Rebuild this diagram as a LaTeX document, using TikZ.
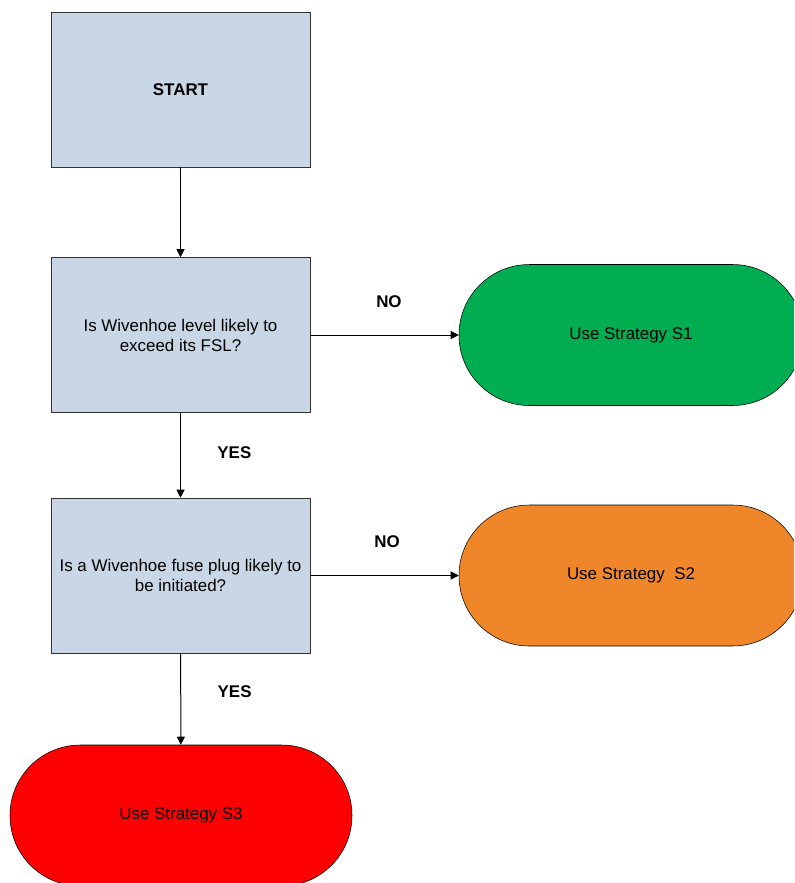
\documentclass[tikz,border=0pt]{standalone}
\usepackage{fontspec}
\setmainfont{Liberation Sans}
\usetikzlibrary{arrows.meta,positioning}
\definecolor{qBox}{HTML}{C9D6E5}
\definecolor{qGreen}{HTML}{00AD50}
\definecolor{qOrange}{HTML}{F0862A}
\definecolor{qRed}{HTML}{FF0000}
\tikzset{
  >={Triangle[length=6pt,width=6pt]},
  qbox/.style ={rectangle,draw=black!80,fill=qBox,align=center,inner sep=2pt,minimum width=194.25pt,minimum height=116.25pt},
  strat/.style={rectangle,rounded corners=52.8pt,draw=black,align=center,minimum width=258pt,minimum height=105.75pt},
  lbl/.style  ={font=\fontsize{12.7}{15}\selectfont\bfseries},
  flow/.style ={->,line width=0.75pt},
}

\begin{document}
\begin{tikzpicture}[x=0.75pt,y=-0.75pt,font=\fontsize{12.7}{15}\selectfont]
  \useasboundingbox (0,0) rectangle (794,883);
  \clip (0,0) rectangle (794,883);
  % questions
  \node[qbox] (start) at (180.5,89.5)  {\bfseries START};
  \node[qbox] (q1)    at (180.5,335)   {Is Wivenhoe level likely to\\exceed its FSL?};
  \node[qbox] (q2)    at (180.5,575.5) {Is a Wivenhoe fuse plug likely to\\be initiated?};
  % strategies
  \node[strat,fill=qGreen]  (s1) at (631,335)   {Use Strategy S1};
  \node[strat,fill=qOrange] (s2) at (631,575.5) {Use Strategy\ \ S2};
  \node[strat,fill=qRed,minimum width=256.5pt] (s3) at (181,815.5) {Use Strategy S3};
  % arrows
  \draw[flow] (start) -- (q1);
  \draw[flow] (q1) -- node[lbl,right=24pt,pos=0.465] {YES} (q2);
  \draw[flow] (q2) -- node[lbl,right=24pt,pos=0.42] {YES} (s3);
  \draw[flow] (q1) -- node[lbl,above=17pt,pos=0.53] {NO} (s1);
  \draw[flow] (q2) -- node[lbl,above=17pt,pos=0.517] {NO} (s2);
\end{tikzpicture}
\end{document}
